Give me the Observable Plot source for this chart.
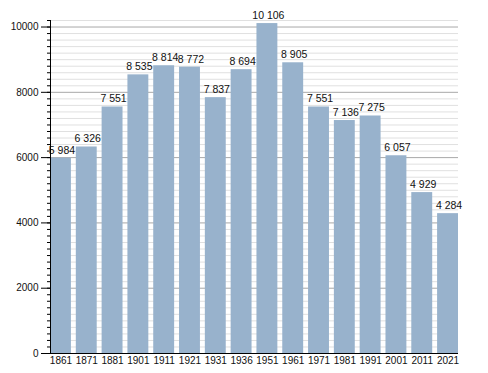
<!DOCTYPE html>
<html>
<head>
<meta charset="utf-8">
<script src="https://cdn.jsdelivr.net/npm/d3@7"></script>
<script src="https://cdn.jsdelivr.net/npm/@observablehq/plot@0.6"></script>
<style>
  html, body { margin: 0; padding: 0; background: #fff; }
  svg { font-family: "Liberation Sans", Arial, sans-serif; }
</style>
</head>
<body>
<div id="chart"></div>
<script>
const years = ["1861","1871","1881","1901","1911","1921","1931","1936","1951","1961","1971","1981","1991","2001","2011","2021"];
const population = [5984, 6326, 7551, 8535, 8814, 8772, 7837, 8694, 10106, 8905, 7551, 7136, 7275, 6057, 4929, 4284];
const yMajorTicks = [0, 2000, 4000, 6000, 8000, 10000];
const yMinorTicks = d3.range(0, 10201, 200);

const data = years.map((y, i) => ({year: y, value: population[i]}));
const fmt = v => d3.format(",")(v).replace(/,/g, " ");

const chart = Plot.plot({
  width: 488,
  height: 373,
  marginTop: 20,
  marginBottom: 20,
  marginLeft: 50,
  marginRight: 30,
  style: {fontFamily: "Liberation Sans, Arial, sans-serif", fontSize: "10px", color: "#111"},
  x: {domain: years, paddingInner: 0.19, paddingOuter: 0, round: false, label: null},
  y: {domain: [0, 10200], label: null},
  marks: [
    Plot.ruleY(yMinorTicks.filter(t => t % 2000 !== 0), {stroke: "#e0e0e0", strokeWidth: 1}),
    Plot.ruleY(yMajorTicks, {stroke: "#a8a8a8", strokeWidth: 1}),
    Plot.barY(data, {x: "year", y: "value", fill: "#98b2cc"}),
    Plot.text(data, {x: "year", y: "value", text: d => fmt(d.value), lineAnchor: "bottom", dy: -4.5, dx: 1, fill: "#111", fontSize: 10.5}),
    Plot.axisY({ticks: yMinorTicks, tickSize: 3, tickFormat: () => "", stroke: "#000"}),
    Plot.axisY({ticks: yMajorTicks, tickSize: 9, tickPadding: 3, tickFormat: d => String(d), stroke: "#000", fill: "#111", fontSize: 10, label: null}),
    Plot.axisX({tickSize: 0, tickPadding: 3, fill: "#111", fontSize: 10, label: null}),
    Plot.ruleY([0], {stroke: "#000", strokeWidth: 1}),
    Plot.frame({anchor: "left", stroke: "#000"})
  ]
});
document.getElementById("chart").append(chart);
</script>
</body>
</html>
